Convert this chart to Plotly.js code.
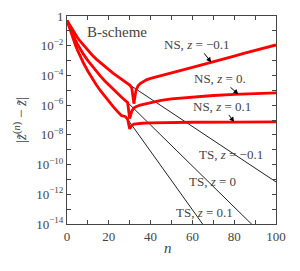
<!DOCTYPE html>
<html><head><meta charset="utf-8">
<script src="https://cdn.plot.ly/plotly-3.0.1.min.js"></script>
<style>html,body{margin:0;padding:0;background:#fff}#plot{width:300px;height:271px}</style>
</head><body><div id="plot"></div>
<script>
// values stored as log10 of |z^(n) - z|
const nsM_n   = [0,1,2,3,4,5,6,8,10,12,14,16,18,20,22,24,26,28,30,31,32,33,34,35,36,38,40,45,50,55,60,65,70,75,80,85,90,95,100];
const nsM_log = [-0.3,-0.55,-0.8,-1.03,-1.25,-1.45,-1.65,-2.0,-2.32,-2.62,-2.9,-3.15,-3.4,-3.62,-3.84,-4.05,-4.25,-4.45,-4.65,-4.85,-5.9,-5.0,-4.7,-4.55,-4.45,-4.3,-4.2,-4.0,-3.82,-3.64,-3.46,-3.28,-3.1,-2.9,-2.7,-2.5,-2.3,-2.12,-1.95];
const ns0_n   = [0,1,2,3,4,5,6,8,10,12,14,16,18,20,22,24,26,28,29,30,31,32,33,35,38,42,45,50,60,70,80,90,100];
const ns0_log = [-0.3,-0.65,-1.0,-1.32,-1.62,-1.9,-2.15,-2.6,-3.0,-3.37,-3.72,-4.05,-4.36,-4.65,-4.93,-5.2,-5.45,-5.7,-5.82,-6.9,-6.4,-6.2,-6.1,-6.0,-5.9,-5.8,-5.68,-5.58,-5.45,-5.35,-5.28,-5.22,-5.17];
const nsP_n   = [0,1,2,3,4,5,6,8,10,12,14,16,18,20,22,24,26,28,29,30,31,32,34,36,40,50,60,80,100];
const nsP_log = [-0.3,-0.75,-1.18,-1.58,-1.95,-2.3,-2.62,-3.2,-3.72,-4.2,-4.63,-5.03,-5.4,-5.75,-6.08,-6.4,-6.7,-6.78,-6.95,-7.6,-7.35,-7.28,-7.24,-7.22,-7.2,-7.17,-7.15,-7.14,-7.13];
const tsM_n   = [0,1,2,3,4,5,6,8,10,12,14,16,18,20,22,24,26,28,100];
const tsM_log = [-0.3,-0.55,-0.8,-1.03,-1.25,-1.45,-1.65,-2.0,-2.32,-2.62,-2.9,-3.15,-3.4,-3.62,-3.84,-4.05,-4.25,-4.45,-11.17];
const ts0_n   = [0,1,2,3,4,5,6,8,10,12,14,16,18,20,22,24,26,28,29,100];
const ts0_log = [-0.3,-0.65,-1.0,-1.32,-1.62,-1.9,-2.15,-2.6,-3.0,-3.37,-3.72,-4.05,-4.36,-4.65,-4.93,-5.2,-5.45,-5.7,-5.82,-15.62];
const tsP_n   = [0,1,2,3,4,5,6,8,10,12,14,16,18,20,22,24,26,28,29,100];
const tsP_log = [-0.3,-0.75,-1.18,-1.58,-1.95,-2.3,-2.62,-3.2,-3.72,-4.2,-4.63,-5.03,-5.4,-5.75,-6.08,-6.4,-6.7,-6.78,-6.95,-20.9];

const xTicks = [0,10,20,30,40,50,60,70,80,90,100];
const xTickText = ['0','','20','','40','','60','','80','','100'];
const yTickExp = [0,-1,-2,-3,-4,-5,-6,-7,-8,-9,-10,-11,-12,-13,-14];
const yTickText = yTickExp.map(e => e===0 ? '1' : (e%2===0 ? '10<sup>\u2212'+(-e)+'</sup>' : ''));

const pow = a => a.map(v => Math.pow(10, v));
const serif = 'Liberation Serif';

const black = (x, y) => ({x, y: pow(y), mode:'lines', line:{color:'#222', width:1}, hoverinfo:'skip'});
const red = (x, y) => ({x, y: pow(y), mode:'lines', line:{color:'#ff0000', width:2.8}, hoverinfo:'skip'});

const data = [
  black(tsM_n, tsM_log), black(ts0_n, ts0_log), black(tsP_n, tsP_log),
  red(nsM_n, nsM_log), red(ns0_n, ns0_log), red(nsP_n, nsP_log)
];

const axBase = {showgrid:false, zeroline:false, showline:true, linecolor:'#444', linewidth:1,
  ticks:'inside', ticklen:4, tickcolor:'#444', mirror:'ticks', tickfont:{family:serif, size:13, color:'#444'}};

// annotation y on a log axis is given in log10 units
const ann = (x, y, text, ax, ay) => ({x, y, xref:'x', yref:'y', text,
  showarrow:true, ax, ay, arrowhead:2, arrowsize:1, arrowwidth:1, arrowcolor:'#000',
  font:{family:serif, size:13, color:'#444'}});
const lbl = (x, y, text) => ({x, y, xref:'x', yref:'y', text, showarrow:false,
  font:{family:serif, size:13, color:'#444'}});

const layout = {
  width:300, height:271, margin:{l:67, r:24, t:16, b:47},
  paper_bgcolor:'#fff', plot_bgcolor:'#fff', showlegend:false,
  font:{family:serif, color:'#444'},
  xaxis: Object.assign({}, axBase, {range:[0,100], tickvals:xTicks, ticktext:xTickText}),
  yaxis: Object.assign({}, axBase, {type:'log', range:[-14,0], tickvals:pow(yTickExp), ticktext:yTickText}),
  annotations: [
    {xref:'paper', yref:'paper', x:0.085, y:0.925, xanchor:'left', yanchor:'middle', text:'B-scheme', showarrow:false, font:{family:serif, size:15, color:'#444'}},
    ann(69, -3.12, 'NS, <i>z</i> = \u22120.1', -14, -18),
    ann(82, -5.27, 'NS, <i>z</i> = 0.', -18, -16),
    ann(80, -7.14, 'NS, <i>z</i> = 0.1', -12, -16),
    lbl(78.5, -9.35, 'TS, <i>z</i> = \u22120.1'),
    lbl(69.8, -11.17, 'TS, <i>z</i> = 0'),
    lbl(65.6, -13.25, 'TS, <i>z</i> = 0.1'),
    {xref:'paper', yref:'paper', x:-0.225, y:0.5, xanchor:'center', yanchor:'middle', textangle:-90, showarrow:false,
     text:'|<i>z\u0303</i><sup>(<i>n</i>)</sup> \u2212 <i>z\u0303</i>|', font:{family:serif, size:15, color:'#444'}},
    {xref:'paper', yref:'paper', x:0.483, y:-0.117, xanchor:'center', yanchor:'middle', showarrow:false,
     text:'<i>n</i>', font:{family:serif, size:15, color:'#444'}}
  ]
};
Plotly.newPlot('plot', data, layout, {staticPlot:true, displayModeBar:false});
</script></body></html>
